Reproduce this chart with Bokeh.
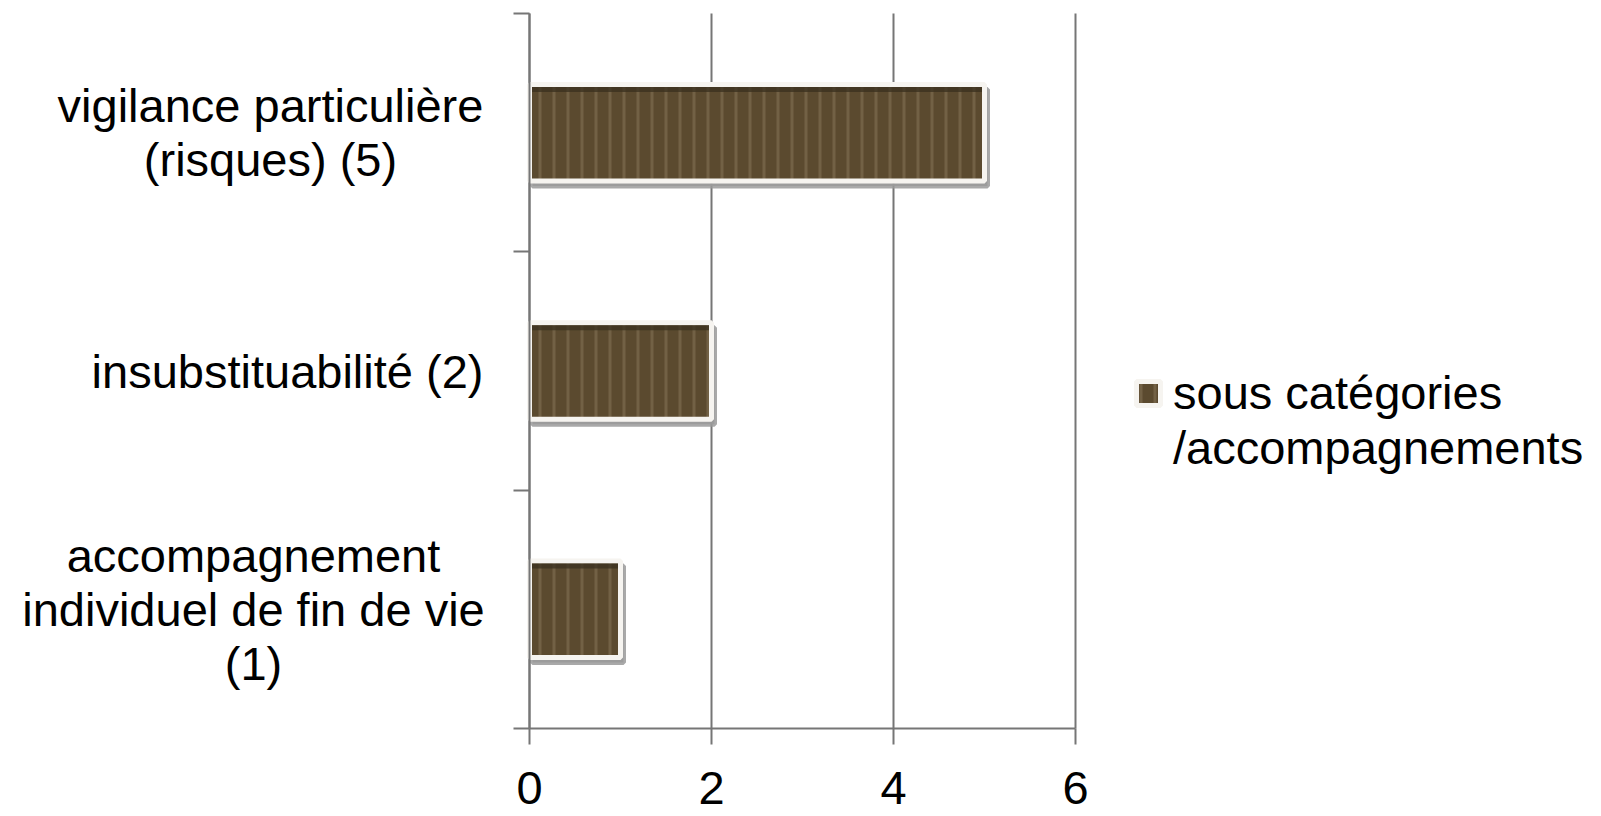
from bokeh.plotting import figure
from bokeh.models import (Range1d, FixedTicker, CustomJSTickFormatter, Legend, LegendItem,
                          ColumnDataSource, Label)
from bokeh.transform import dodge
from bokeh.embed import file_html
from bokeh.resources import INLINE

categories = ["vigilance particulière\n(risques) (5)",
              "insubstituabilité (2)",
              "accompagnement\nindividuel de fin de vie\n(1)"]
values = [5, 2, 1]
x_ticks = [0, 2, 4, 6]
legend_lines = ["sous catégories", "/accompagnements"]

FONT = "Liberation Sans"
FS = "47px"
GREY = "#767676"

W, H = 1600, 816
AXIS_X_PX = 529      # pixel column of value 0
UNIT_PX = 91         # pixels per value unit
AXIS_TOP_PX, AXIS_BOTTOM_PX = 13, 728

n = len(categories)
unit_y = (AXIS_BOTTOM_PX - AXIS_TOP_PX) / n
x_start = -AXIS_X_PX / UNIT_PX
x_end = (W - AXIS_X_PX) / UNIT_PX
y_start = -(H - AXIS_BOTTOM_PX) / unit_y
y_end = n + AXIS_TOP_PX / unit_y

ypos = [n - 0.5 - i for i in range(n)]   # first category on top
src = ColumnDataSource(dict(y=ypos, val=values, zero=[0] * n))
grid_src = ColumnDataSource(dict(x=x_ticks, y0=[0] * len(x_ticks), y1=[n] * len(x_ticks)))

p = figure(width=W, height=H, output_backend="svg", toolbar_location=None,
           y_range=Range1d(y_start, y_end), x_range=Range1d(x_start, x_end),
           min_border_left=0, min_border_right=0, min_border_top=0, min_border_bottom=0)
p.outline_line_color = None
p.background_fill_color = "white"
p.xgrid.grid_line_color = None
p.ygrid.grid_line_color = None

# vertical grid lines between the axes
p.segment(x0="x", y0="y0", x1="x", y1="y1", source=grid_src, line_color=GREY, line_width=2)

# bottom axis at category boundary 0
xa = p.xaxis[0]
xa.fixed_location = 0
xa.ticker = FixedTicker(ticks=x_ticks)
xa.bounds = (x_ticks[0], x_ticks[-1])
xa.axis_line_color = GREY
xa.axis_line_width = 2
xa.major_tick_line_color = GREY
xa.major_tick_line_width = 2
xa.major_tick_in = 0
xa.major_tick_out = 16
xa.minor_tick_line_color = None
xa.major_label_text_font = FONT
xa.major_label_text_font_size = FS
xa.major_label_text_color = "black"
xa.major_label_standoff = 27

# left axis at value 0: ticks at category boundaries
ya = p.yaxis[0]
ya.fixed_location = 0
ya.bounds = (0, n)
ya.ticker = FixedTicker(ticks=list(range(n + 1)))
ya.formatter = CustomJSTickFormatter(code="return ''")
ya.axis_line_color = GREY
ya.axis_line_width = 2
ya.major_tick_line_color = GREY
ya.major_tick_line_width = 2
ya.major_tick_in = 0
ya.major_tick_out = 16
ya.minor_tick_line_color = None
ya.major_label_standoff = 0

# category labels (centred lines, block right edge near the axis)
label_offsets = [-259, -242, -276]
for y, text, off in zip(ypos, categories, label_offsets):
    p.add_layout(Label(x=0, y=y, x_offset=off, text=text, text_align="center",
                       text_baseline="middle", text_font=FONT, text_font_size=FS,
                       text_color="black", text_line_height=1.02))

BAR_H = 0.405
# shadow
p.hbar(y=dodge("y", -0.021), left=dodge("zero", 0.033), right=dodge("val", 0.033),
       height=BAR_H, source=src, fill_color="#9a9a9a", fill_alpha=0.85,
       line_color="#9a9a9a", line_alpha=0.85, line_width=5)

bars = p.hbar(y="y", left="zero", right="val", height=BAR_H, source=src,
              fill_color="#5b4a2f", line_color="#f6f4f0", line_width=5,
              hatch_pattern="|", hatch_color="#78674b", hatch_scale=14,
              hatch_weight=3, hatch_alpha=0.8)

# darker band along the inner top edge of each bar
band_h = 5 / unit_y
p.hbar(y=dodge("y", BAR_H / 2 - 2.5 / unit_y - band_h / 2), left=dodge("zero", 2.5 / UNIT_PX),
       right=dodge("val", -2.5 / UNIT_PX), height=band_h, source=src,
       fill_color="#3a301f", fill_alpha=0.75, line_color=None)

# empty renderer used only for the second legend line
blank = p.hbar(y=[], right=[], height=0.4, fill_alpha=0, line_alpha=0)

legend = Legend(items=[LegendItem(label=legend_lines[0], renderers=[bars]),
                       LegendItem(label=legend_lines[1], renderers=[blank])],
                location=(1133, 341), orientation="vertical")
legend.border_line_color = None
legend.background_fill_alpha = 0
legend.padding = 0
legend.margin = 0
legend.spacing = 0
legend.glyph_width = 30
legend.glyph_height = 30
legend.label_standoff = 10
legend.label_text_font = FONT
legend.label_text_font_size = FS
legend.label_text_color = "black"
p.add_layout(legend, "center")

open("out.html", "w").write(file_html(p, INLINE))
